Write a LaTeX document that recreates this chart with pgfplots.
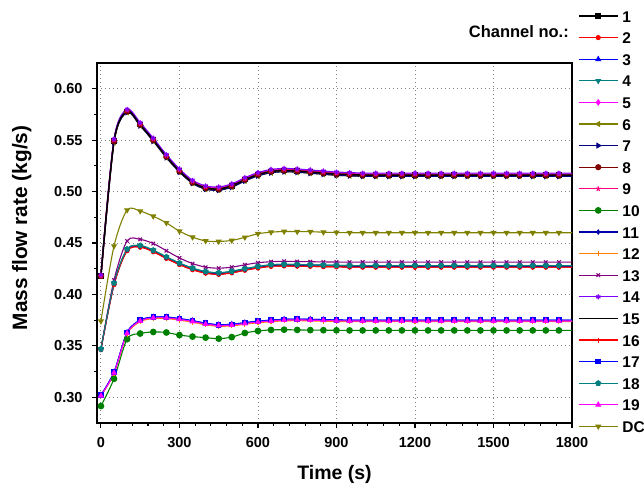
\documentclass[border=0pt]{standalone}
\usepackage{fontspec}
\setmainfont{Liberation Sans}
\usepackage{pgfplots}
\usepackage{pgfplotstable}
\pgfplotsset{compat=1.18}
\usetikzlibrary{plotmarks}

\definecolor{cteal}{RGB}{0,128,128}
\definecolor{colive}{RGB}{128,128,0}
\definecolor{cnavy}{RGB}{0,0,128}
\definecolor{croyal}{RGB}{0,0,170}
\definecolor{cwine}{RGB}{128,0,0}
\definecolor{cpink}{RGB}{255,0,128}
\definecolor{cgreen}{RGB}{0,128,0}
\definecolor{corange}{RGB}{255,128,0}
\definecolor{cpurple}{RGB}{128,0,128}
\definecolor{cviolet}{RGB}{128,0,255}
\definecolor{cmag}{RGB}{255,0,255}

% top group: channels 1 5 6 7 8 9 14 15
\pgfplotstableread{
t c1 c5 c6 c7 c8 c9 c14 c15
0 0.418 0.418 0.418 0.418 0.418 0.418 0.419 0.418
50 0.549 0.550 0.548 0.548 0.549 0.550 0.551 0.549
100 0.578 0.579 0.577 0.577 0.578 0.579 0.580 0.578
150 0.565 0.566 0.564 0.564 0.565 0.566 0.567 0.565
200 0.550 0.551 0.549 0.549 0.550 0.551 0.552 0.550
250 0.534 0.535 0.533 0.533 0.534 0.535 0.536 0.534
300 0.520 0.521 0.519 0.519 0.520 0.521 0.522 0.520
350 0.509 0.510 0.508 0.508 0.509 0.510 0.511 0.509
400 0.5035 0.5045 0.5023 0.5023 0.5035 0.5045 0.5055 0.5035
450 0.5025 0.5035 0.5013 0.5013 0.5025 0.5035 0.5045 0.5025
500 0.5055 0.5065 0.5043 0.5043 0.5055 0.5065 0.5075 0.5055
550 0.5115 0.5125 0.5103 0.5103 0.5115 0.5125 0.5135 0.5115
600 0.5165 0.5175 0.5153 0.5153 0.5165 0.5175 0.5185 0.5165
650 0.5195 0.5205 0.5183 0.5183 0.5195 0.5205 0.5215 0.5195
700 0.5205 0.5215 0.5193 0.5193 0.5205 0.5215 0.5225 0.5205
750 0.5200 0.5210 0.5188 0.5188 0.5200 0.5210 0.5220 0.5200
800 0.5190 0.5200 0.5178 0.5178 0.5190 0.5200 0.5210 0.5190
850 0.5180 0.5190 0.5168 0.5168 0.5180 0.5190 0.5200 0.5180
900 0.5170 0.5180 0.5158 0.5158 0.5170 0.5180 0.5190 0.5170
950 0.5165 0.5175 0.5153 0.5153 0.5165 0.5175 0.5185 0.5165
1000 0.5160 0.5170 0.5148 0.5148 0.5160 0.5170 0.5180 0.5160
1050 0.5160 0.5170 0.5148 0.5148 0.5160 0.5170 0.5180 0.5160
1100 0.5160 0.5170 0.5148 0.5148 0.5160 0.5170 0.5180 0.5160
1150 0.5160 0.5170 0.5148 0.5148 0.5160 0.5170 0.5180 0.5160
1200 0.5160 0.5170 0.5148 0.5148 0.5160 0.5170 0.5180 0.5160
1250 0.5160 0.5170 0.5148 0.5148 0.5160 0.5170 0.5180 0.5160
1300 0.5160 0.5170 0.5148 0.5148 0.5160 0.5170 0.5180 0.5160
1350 0.5160 0.5170 0.5148 0.5148 0.5160 0.5170 0.5180 0.5160
1400 0.5160 0.5170 0.5148 0.5148 0.5160 0.5170 0.5180 0.5160
1450 0.5160 0.5170 0.5148 0.5148 0.5160 0.5170 0.5180 0.5160
1500 0.5160 0.5170 0.5148 0.5148 0.5160 0.5170 0.5180 0.5160
1550 0.5160 0.5170 0.5148 0.5148 0.5160 0.5170 0.5180 0.5160
1600 0.5160 0.5170 0.5148 0.5148 0.5160 0.5170 0.5180 0.5160
1650 0.5160 0.5170 0.5148 0.5148 0.5160 0.5170 0.5180 0.5160
1700 0.5160 0.5170 0.5148 0.5148 0.5160 0.5170 0.5180 0.5160
1750 0.5160 0.5170 0.5148 0.5148 0.5160 0.5170 0.5180 0.5160
1800 0.5160 0.5170 0.5148 0.5148 0.5160 0.5170 0.5180 0.5160
}\toptab

% middle group: channels 2 4 11 13 16 18
\pgfplotstableread{
t c2 c4 c11 c13 c16 c18
0 0.3465 0.347 0.3465 0.347 0.3465 0.347
50 0.4095 0.411 0.410 0.414 0.4095 0.411
100 0.4425 0.444 0.443 0.452 0.4425 0.444
150 0.446 0.4475 0.4465 0.4535 0.446 0.4475
200 0.4415 0.443 0.442 0.4495 0.4415 0.443
250 0.435 0.4365 0.4355 0.4425 0.435 0.4365
300 0.429 0.4305 0.4295 0.4355 0.429 0.4305
350 0.424 0.4255 0.4245 0.4300 0.424 0.4255
400 0.4207 0.4222 0.4212 0.4265 0.4207 0.4222
450 0.4195 0.421 0.420 0.4255 0.4195 0.421
500 0.421 0.4225 0.4215 0.4265 0.421 0.4225
550 0.4235 0.425 0.424 0.4288 0.4235 0.425
600 0.4257 0.4272 0.4262 0.4308 0.4257 0.4272
650 0.4273 0.4288 0.4278 0.4318 0.4273 0.4288
700 0.4277 0.4292 0.4282 0.4322 0.4277 0.4292
750 0.4275 0.4290 0.4280 0.4320 0.4275 0.4290
800 0.4273 0.4288 0.4278 0.4318 0.4273 0.4288
850 0.4270 0.4285 0.4275 0.4316 0.4270 0.4285
900 0.4268 0.4283 0.4273 0.4315 0.4268 0.4283
950 0.4266 0.4281 0.4271 0.4314 0.4266 0.4281
1000 0.4265 0.4280 0.4270 0.4314 0.4265 0.4280
1050 0.4265 0.4280 0.4270 0.4314 0.4265 0.4280
1100 0.4265 0.4280 0.4270 0.4314 0.4265 0.4280
1150 0.4265 0.4280 0.4270 0.4314 0.4265 0.4280
1200 0.4265 0.4280 0.4270 0.4314 0.4265 0.4280
1250 0.4265 0.4280 0.4270 0.4314 0.4265 0.4280
1300 0.4265 0.4280 0.4270 0.4314 0.4265 0.4280
1350 0.4265 0.4280 0.4270 0.4314 0.4265 0.4280
1400 0.4265 0.4280 0.4270 0.4314 0.4265 0.4280
1450 0.4265 0.4280 0.4270 0.4314 0.4265 0.4280
1500 0.4265 0.4280 0.4270 0.4314 0.4265 0.4280
1550 0.4265 0.4280 0.4270 0.4314 0.4265 0.4280
1600 0.4265 0.4280 0.4270 0.4314 0.4265 0.4280
1650 0.4265 0.4280 0.4270 0.4314 0.4265 0.4280
1700 0.4265 0.4280 0.4270 0.4314 0.4265 0.4280
1750 0.4265 0.4280 0.4270 0.4314 0.4265 0.4280
1800 0.4265 0.4280 0.4270 0.4314 0.4265 0.4280
}\midtab

% lower group: channels 3 10 12 17 19, and the downcomer
\pgfplotstableread{
t c3 c10 c12 c17 c19 dc
0 0.302 0.2915 0.3015 0.302 0.3015 0.374
50 0.3245 0.318 0.323 0.3245 0.3237 0.447
100 0.363 0.3565 0.3615 0.363 0.3622 0.482
150 0.375 0.362 0.3735 0.375 0.3742 0.481
200 0.378 0.3635 0.3765 0.378 0.3772 0.476
250 0.378 0.363 0.3765 0.378 0.3772 0.4696
300 0.3765 0.3605 0.375 0.3765 0.3757 0.4615
350 0.3745 0.359 0.373 0.3745 0.3737 0.4557
400 0.372 0.358 0.3705 0.372 0.3712 0.452
450 0.3705 0.357 0.369 0.3705 0.3697 0.4515
500 0.371 0.3585 0.3695 0.371 0.3702 0.4525
550 0.3725 0.3625 0.371 0.3725 0.3717 0.4555
600 0.374 0.3645 0.3725 0.374 0.3732 0.459
650 0.375 0.3655 0.3735 0.375 0.3742 0.4605
700 0.3758 0.3657 0.3743 0.3758 0.375 0.4612
750 0.376 0.3655 0.3745 0.376 0.3752 0.461
800 0.3758 0.3653 0.3743 0.3758 0.375 0.461
850 0.3755 0.3652 0.374 0.3755 0.3747 0.4605
900 0.3752 0.3651 0.3737 0.3752 0.3744 0.4602
950 0.375 0.365 0.3735 0.375 0.3742 0.460
1000 0.375 0.365 0.3735 0.375 0.3742 0.460
1050 0.375 0.365 0.3735 0.375 0.3742 0.460
1100 0.375 0.365 0.3735 0.375 0.3742 0.460
1150 0.375 0.365 0.3735 0.375 0.3742 0.460
1200 0.375 0.365 0.3735 0.375 0.3742 0.460
1250 0.375 0.365 0.3735 0.375 0.3742 0.460
1300 0.375 0.365 0.3735 0.375 0.3742 0.460
1350 0.375 0.365 0.3735 0.375 0.3742 0.460
1400 0.375 0.365 0.3735 0.375 0.3742 0.460
1450 0.375 0.365 0.3735 0.375 0.3742 0.460
1500 0.375 0.365 0.3735 0.375 0.3742 0.460
1550 0.375 0.365 0.3735 0.375 0.3742 0.460
1600 0.375 0.365 0.3735 0.375 0.3742 0.460
1650 0.375 0.365 0.3735 0.375 0.3742 0.460
1700 0.375 0.365 0.3735 0.375 0.3742 0.460
1750 0.375 0.365 0.3735 0.375 0.3742 0.460
1800 0.375 0.365 0.3735 0.375 0.3742 0.460
}\lowtab

\begin{document}
\begin{tikzpicture}
\path[use as bounding box] (-97pt,-63pt) rectangle (547pt,423pt);
\begin{axis}[
    at={(0pt,0pt)}, anchor=south west,
    width=475pt, height=360pt, scale only axis,
    xmin=-15, xmax=1800,
    ymin=0.275, ymax=0.625,
    xtick={0,300,600,900,1200,1500,1800},
    ytick={0.30,0.35,0.40,0.45,0.50,0.55,0.60},
    minor x tick num=4, minor y tick num=1,
    tick align=outside, xtick pos=bottom, ytick pos=left,
    major tick length=5pt, minor tick length=3pt,
    every tick/.style={black, line width=1.1pt},
    axis line style={line width=1.3pt},
    grid=major,
    grid style={black!50, line width=0.9pt, dash pattern=on 1pt off 3pt},
    /pgf/number format/assume math mode=true,
    /pgf/number format/1000 sep={},
    ticklabel style={font=\fontsize{14.5}{14.5}\selectfont\bfseries},
    xticklabel style={yshift=-6pt},
    yticklabel style={xshift=-6pt, /pgf/number format/.cd, fixed, fixed zerofill, precision=2},
    xlabel={Time (s)}, ylabel={Mass flow rate (kg/s)},
    xlabel style={at={(axis description cs:0.5,-0.1417)}, anchor=center,
        font=\fontsize{19.5}{19.5}\selectfont\bfseries},
    ylabel style={at={(axis description cs:-0.1585,0.5417)}, anchor=center,
        font=\fontsize{20.8}{20.8}\selectfont\bfseries},
    every axis plot/.append style={smooth, line width=1.1pt, mark size=2.5pt, mark indices={1,...,36}},
    legend image code/.code={\draw[mark indices={2}] plot coordinates {(0pt,0pt) (19.5pt,0pt) (39pt,0pt)};},
    legend cell align=left,
    legend style={at={(1.0126,1.1472)}, anchor=north west, draw=none, fill=none,
        inner sep=0pt, outer sep=0pt, row sep=9.6pt,
        font=\fontsize{15.5}{15.5}\selectfont\bfseries,
        nodes={inner sep=0pt, text height=12pt, text depth=0pt},
        /tikz/every odd column/.append style={column sep=4pt}},
]
\addplot[color=black, line width=1.5pt, mark=square*, mark size=2pt] table[x=t,y=c1]{\toptab};
\addlegendentry{1}
\addplot[color=red, mark=*, mark size=2pt] table[x=t,y=c2]{\midtab};
\addlegendentry{2}
\addplot[color=blue, mark=triangle*] table[x=t,y=c3]{\lowtab};
\addlegendentry{3}
\addplot[color=cteal, mark=triangle*, mark options={rotate=180}] table[x=t,y=c4]{\midtab};
\addlegendentry{4}
\addplot[color=cmag, mark=diamond*] table[x=t,y=c5]{\toptab};
\addlegendentry{5}
\addplot[color=colive, mark=triangle*, mark options={rotate=90}] table[x=t,y=c6]{\toptab};
\addlegendentry{6}
\addplot[color=cnavy, mark=triangle*, mark options={rotate=-90}] table[x=t,y=c7]{\toptab};
\addlegendentry{7}
\addplot[color=cwine, mark=*] table[x=t,y=c8]{\toptab};
\addlegendentry{8}
\addplot[color=cpink, mark=star] table[x=t,y=c9]{\toptab};
\addlegendentry{9}
\addplot[color=cgreen, mark=*, mark size=2.8pt] table[x=t,y=c10]{\lowtab};
\addlegendentry{10}
\addplot[color=croyal, mark=diamond*, mark size=2pt] table[x=t,y=c11]{\midtab};
\addlegendentry{11}
\addplot[color=corange, mark=|] table[x=t,y=c12]{\lowtab};
\addlegendentry{12}
\addplot[color=cpurple, mark=x] table[x=t,y=c13]{\midtab};
\addlegendentry{13}
\addplot[color=cviolet, mark=asterisk] table[x=t,y=c14]{\toptab};
\addlegendentry{14}
\addplot[color=black, line width=1.5pt, no marks] table[x=t,y=c15]{\toptab};
\addlegendentry{15}
\addplot[color=red, mark=+] table[x=t,y=c16]{\midtab};
\addlegendentry{16}
\addplot[color=blue, mark=square*, mark size=2.2pt] table[x=t,y=c17]{\lowtab};
\addlegendentry{17}
\addplot[color=cteal, mark=pentagon*] table[x=t,y=c18]{\midtab};
\addlegendentry{18}
\addplot[color=cmag, mark=triangle*] table[x=t,y=c19]{\lowtab};
\addlegendentry{19}
\addplot[color=colive, mark=triangle*, mark options={rotate=180}] table[x=t,y=dc]{\lowtab};
\addlegendentry{DC}
\end{axis}
\node[anchor=base east, inner sep=0pt, font=\fontsize{16.5}{16.5}\selectfont\bfseries] at (472pt,385pt) {Channel no.:};
\end{tikzpicture}
\end{document}
